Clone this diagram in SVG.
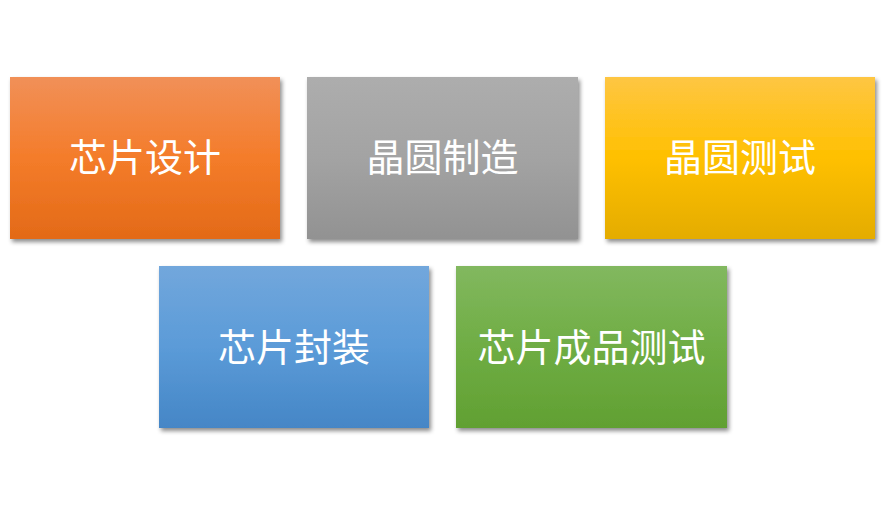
<svg xmlns="http://www.w3.org/2000/svg" width="885" height="505" viewBox="0 0 885 505">
<defs>
<linearGradient id="gOrange" x1="0" y1="0" x2="0" y2="1"><stop offset="0" stop-color="#F19058"/><stop offset="0.5" stop-color="#F47C2A"/><stop offset="1" stop-color="#E36A17"/></linearGradient>
<linearGradient id="gGray" x1="0" y1="0" x2="0" y2="1"><stop offset="0" stop-color="#ADADAD"/><stop offset="0.5" stop-color="#A3A3A3"/><stop offset="1" stop-color="#929292"/></linearGradient>
<linearGradient id="gYellow" x1="0" y1="0" x2="0" y2="1"><stop offset="0" stop-color="#FEC643"/><stop offset="0.5" stop-color="#FFC000"/><stop offset="1" stop-color="#E4AC00"/></linearGradient>
<linearGradient id="gBlue" x1="0" y1="0" x2="0" y2="1"><stop offset="0" stop-color="#72A7DC"/><stop offset="0.5" stop-color="#5B9BD8"/><stop offset="1" stop-color="#4586C6"/></linearGradient>
<linearGradient id="gGreen" x1="0" y1="0" x2="0" y2="1"><stop offset="0" stop-color="#82B85F"/><stop offset="0.5" stop-color="#6FAD44"/><stop offset="1" stop-color="#61A032"/></linearGradient>
<filter id="shadow" x="-5%" y="-5%" width="115%" height="120%"><feDropShadow dx="2" dy="3" stdDeviation="2" flood-color="#000" flood-opacity="0.45"/></filter>
</defs>
<style>
.box{filter:url(#shadow);}
.lbl{font-family:"Noto Sans CJK SC","Liberation Sans",sans-serif;font-size:38px;fill:#FFFFFF;text-anchor:middle;}
</style>
<rect width="885" height="505" fill="#FFFFFF"/>
<g id="connectors"></g>
<g id="node1"><rect class="box" x="10" y="77" width="270" height="162" fill="url(#gOrange)"/><text class="lbl" x="145" y="171">芯片设计</text></g>
<g id="node2"><rect class="box" x="307" y="77" width="271" height="162" fill="url(#gGray)"/><text class="lbl" x="442.5" y="171">晶圆制造</text></g>
<g id="node3"><rect class="box" x="605" y="77" width="270" height="162" fill="url(#gYellow)"/><text class="lbl" x="740" y="171">晶圆测试</text></g>
<g id="node4"><rect class="box" x="159" y="266" width="270" height="162" fill="url(#gBlue)"/><text class="lbl" x="294" y="361">芯片封装</text></g>
<g id="node5"><rect class="box" x="456" y="266" width="271" height="162" fill="url(#gGreen)"/><text class="lbl" x="591.5" y="361">芯片成品测试</text></g>
</svg>
